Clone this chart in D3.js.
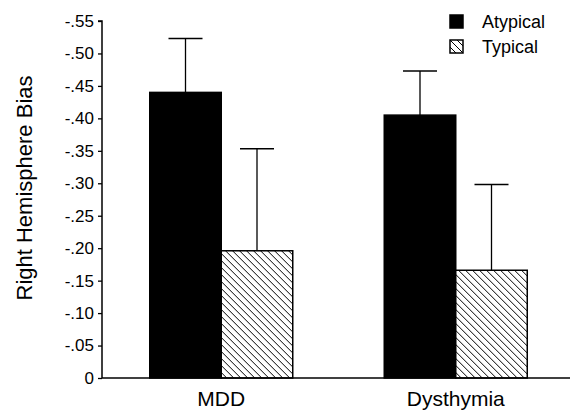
<!DOCTYPE html>
<html><head><meta charset="utf-8">
<script src="https://cdn.jsdelivr.net/npm/d3@7"></script>
<style>html,body{margin:0;padding:0;background:#fff;}svg{display:block;}</style>
</head><body>
<svg id="chart" width="570" height="411"></svg>
<script>
const categories = ["MDD", "Dysthymia"];
const seriesNames = ["Atypical", "Typical"];
const atypicalValues = [0.44, 0.405];
const atypicalErrors = [0.083, 0.068];
const typicalValues = [0.196, 0.166];
const typicalErrors = [0.157, 0.132];
const yTickValues = [0, 0.05, 0.10, 0.15, 0.20, 0.25, 0.30, 0.35, 0.40, 0.45, 0.50, 0.55];
const yTickLabels = ["0", "-.05", "-.10", "-.15", "-.20", "-.25", "-.30", "-.35", "-.40", "-.45", "-.50", "-.55"];
const yTitle = "Right Hemisphere Bias";

const svg = d3.select("#chart");
const font = "'Liberation Sans', Arial, Helvetica, sans-serif";
const plotLeft = 102, plotRight = 571, plotTop = 21, plotBottom = 378;

const defs = svg.append("defs");
const pat = defs.append("pattern").attr("id", "hatch").attr("patternUnits", "userSpaceOnUse")
  .attr("width", 7).attr("height", 7);
pat.append("rect").attr("width", 7).attr("height", 7).attr("fill", "#fff");
pat.append("path").attr("d", "M-1,-1 L8,8 M-8,-1 L1,8 M6,-1 L15,8").attr("stroke", "#000").attr("stroke-width", 1);

const y = d3.scaleLinear().domain([0, 0.55]).range([plotBottom, plotTop]);
const x0 = d3.scaleBand().domain(categories).range([104, 573]);
const groupW = 143;
const x1 = d3.scaleBand().domain(seriesNames).range([0, groupW]);

const data = categories.map((c, i) => ({
  cat: c,
  bars: [
    {s: "Atypical", v: atypicalValues[i], e: atypicalErrors[i]},
    {s: "Typical", v: typicalValues[i], e: typicalErrors[i]}
  ]
}));

const g = svg.append("g");
const groups = g.selectAll("g.grp").data(data).join("g")
  .attr("transform", d => `translate(${x0(d.cat) + (x0.bandwidth() - groupW) / 2},0)`);

groups.selectAll("g.err").data(d => d.bars).join("g").each(function(b) {
  const cx = x1(b.s) + x1.bandwidth() / 2;
  const sel = d3.select(this);
  sel.append("line").attr("x1", cx).attr("x2", cx).attr("y1", y(b.v)).attr("y2", y(b.v + b.e))
    .attr("stroke", "#000").attr("stroke-width", 1.3);
  sel.append("line").attr("x1", cx - 17).attr("x2", cx + 17).attr("y1", y(b.v + b.e)).attr("y2", y(b.v + b.e))
    .attr("stroke", "#000").attr("stroke-width", 1.5);
});

groups.selectAll("rect.bar").data(d => d.bars).join("rect")
  .attr("x", b => x1(b.s))
  .attr("width", x1.bandwidth())
  .attr("y", b => y(b.v))
  .attr("height", b => y(0) - y(b.v))
  .attr("fill", b => b.s === "Atypical" ? "#000" : "url(#hatch)")
  .attr("stroke", "#000").attr("stroke-width", 1.5);

const yAxis = d3.axisLeft(y).tickValues(yTickValues).tickSize(4).tickPadding(4)
  .tickFormat((d, i) => yTickLabels[i]);
const ya = svg.append("g").attr("transform", `translate(${plotLeft},0)`).call(yAxis);
ya.select(".domain").attr("d", `M-4,${plotTop}H0V${plotBottom}`).attr("stroke", "#000").attr("stroke-width", 1.5);
ya.selectAll(".tick line").attr("stroke", "#000").attr("stroke-width", 1.3);
ya.selectAll(".tick text").attr("font-family", font).attr("font-size", 17).attr("fill", "#000");

const xAxis = d3.axisBottom(x0).tickSize(0).tickPadding(13);
const xa = svg.append("g").attr("transform", `translate(0,${plotBottom})`).call(xAxis);
xa.select(".domain").attr("d", `M${plotLeft},0H${plotRight}`).attr("stroke", "#000").attr("stroke-width", 1.5);
xa.selectAll(".tick text").attr("font-family", font).attr("font-size", 21).attr("fill", "#000");

svg.append("text").attr("transform", `translate(32,188) rotate(-90)`)
  .attr("text-anchor", "middle").attr("font-family", font).attr("font-size", 22).attr("fill", "#000")
  .text(yTitle);

const legend = svg.append("g").attr("transform", "translate(450,15)");
const li = legend.selectAll("g").data(seriesNames).join("g").attr("transform", (d, i) => `translate(0,${i * 25})`);
li.append("rect").attr("width", 13).attr("height", 13)
  .attr("fill", d => d === "Atypical" ? "#000" : "url(#hatch)")
  .attr("stroke", "#000").attr("stroke-width", 1.5);
li.append("text").attr("x", 32).attr("y", 12.5).attr("font-family", font).attr("font-size", 18).attr("fill", "#000")
  .text(d => d);
</script>
</body></html>
